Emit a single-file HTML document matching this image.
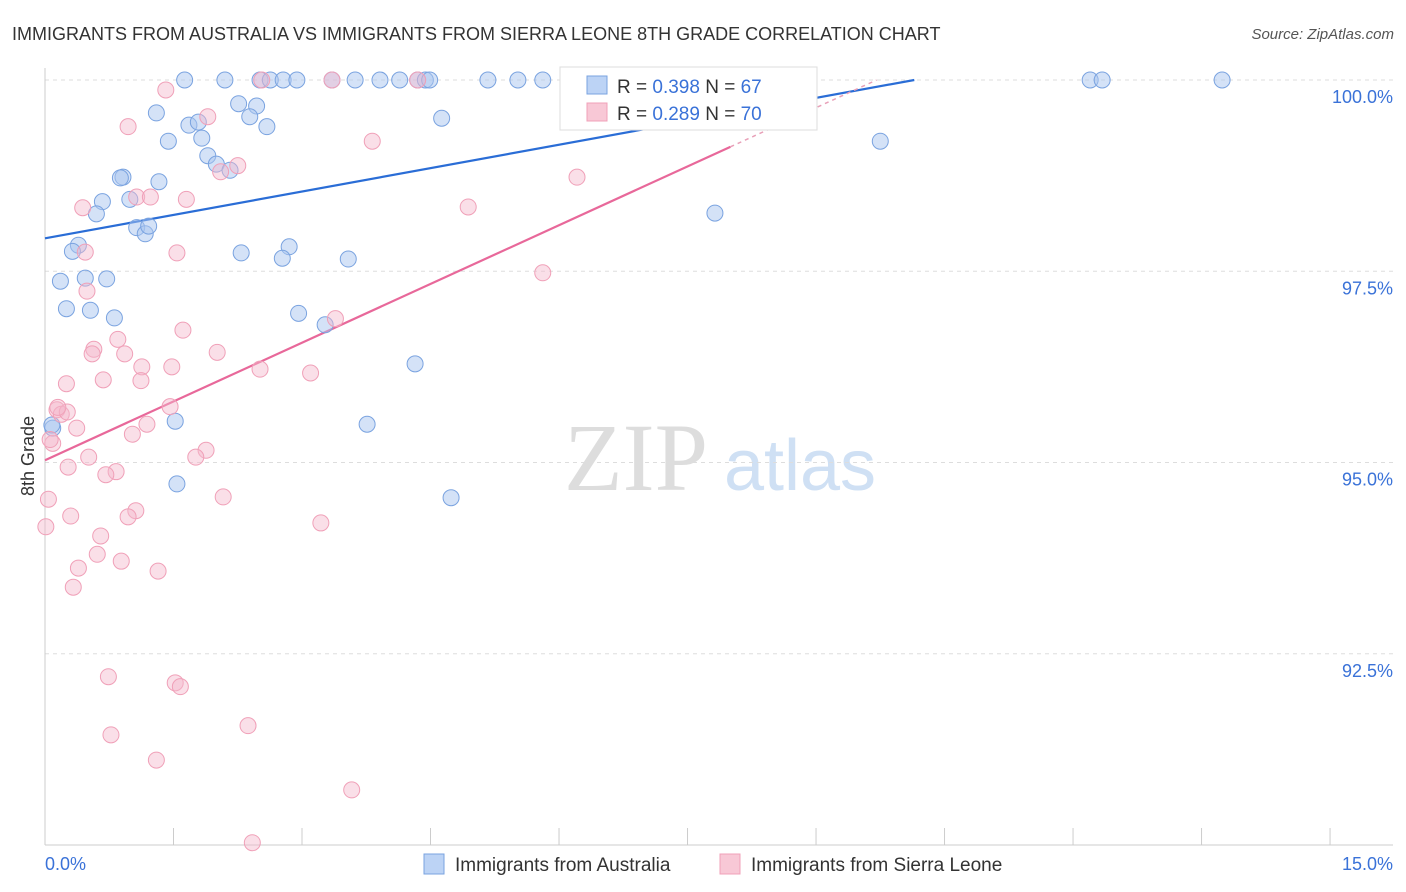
<!DOCTYPE html>
<html><head><meta charset="utf-8"><style>
body{margin:0;background:#fff;font-family:"Liberation Sans",sans-serif;}
svg{display:block}
</style></head><body>
<svg id="chart" width="1406" height="892">
<text x="12" y="40" font-size="18" fill="#333">IMMIGRANTS FROM AUSTRALIA VS IMMIGRANTS FROM SIERRA LEONE 8TH GRADE CORRELATION CHART</text>
<text x="1394" y="39" font-size="15" fill="#555" text-anchor="end" font-style="italic">Source: ZipAtlas.com</text>
<text x="34" y="456" font-size="18" fill="#333" text-anchor="middle" transform="rotate(-90 34 456)">8th Grade</text>
<g><text x="636" y="490" font-size="96" fill="#ddd" text-anchor="middle" font-family="Liberation Serif,serif">ZIP</text><text x="800" y="490" font-size="72" fill="#cfe0f4" text-anchor="middle">atlas</text></g>
<g id="grid"></g><g id="axes"></g><g id="trend"></g><g id="pts"></g>
<g>
<rect x="560" y="67" width="257" height="63" fill="#fff" stroke="#ddd"/>
<rect x="587" y="76" width="20" height="18" fill="#bcd3f5" stroke="#7aa3e0"/>
<text x="617" y="93" font-size="19" fill="#333">R = <tspan fill="#3a72d8">0.398</tspan>   N = <tspan fill="#3a72d8">67</tspan></text>
<rect x="587" y="103" width="20" height="18" fill="#f8c8d6" stroke="#f0a0b8"/>
<text x="617" y="120" font-size="19" fill="#333">R = <tspan fill="#3a72d8">0.289</tspan>   N = <tspan fill="#3a72d8">70</tspan></text>
</g>
<g>
<rect x="424" y="854" width="20" height="20" fill="#bcd3f5" stroke="#7aa3e0"/>
<text x="455" y="871" font-size="19" fill="#333">Immigrants from Australia</text>
<rect x="720" y="854" width="20" height="20" fill="#f8c8d6" stroke="#f0a0b8"/>
<text x="751" y="871" font-size="19" fill="#333">Immigrants from Sierra Leone</text>
</g>
</svg>
<script>
const xTicks=[0,1.5,3,4.5,6,7.5,9,10.5,12,13.5,15];
const yTicks=[92.5,95,97.5,100];
const yTickLabels=["92.5%","95.0%","97.5%","100.0%"];
const xEndLabels=["0.0%","15.0%"];
const blueX=[1.63,2.10,2.51,2.63,2.78,2.94,3.35,3.62,3.91,4.14,4.35,4.44,4.49,5.17,5.52,5.81,6.24,12.20,12.34,13.74,1.30,2.26,2.47,2.39,2.59,1.68,1.79,1.44,1.83,1.90,2.00,2.16,4.63,0.91,0.88,1.33,0.67,0.99,0.60,1.07,1.17,1.21,0.39,0.32,2.29,2.85,2.77,3.54,0.18,0.47,0.72,0.25,0.53,0.81,2.96,3.27,4.32,1.52,3.76,0.09,1.54,4.74,9.75,7.82,0.08];
const blueY=[100,100,100,100,100,100,100,100,100,100,100,100,100,100,100,100,100,100,100,100,99.57,99.69,99.66,99.52,99.39,99.41,99.45,99.20,99.24,99.01,98.90,98.82,99.50,98.73,98.72,98.67,98.41,98.44,98.25,98.07,97.99,98.09,97.84,97.76,97.74,97.82,97.67,97.66,97.37,97.41,97.40,97.01,96.99,96.89,96.95,96.80,96.29,95.54,95.50,95.45,94.72,94.54,99.20,98.26,95.49];
const pinkX=[1.41,1.90,0.97,0.44,1.07,1.65,2.25,2.05,0.47,1.54,0.49,3.82,6.21,4.94,5.81,1.61,3.39,0.85,0.57,0.55,0.93,2.01,1.13,1.48,2.51,3.10,0.25,0.68,1.12,0.14,0.19,1.46,1.19,0.37,1.02,0.09,1.88,1.76,0.51,0.27,0.83,0.71,0.04,2.08,1.06,0.97,0.30,3.22,0.01,0.65,0.61,0.89,0.39,1.32,0.33,0.74,1.52,1.58,0.77,2.37,1.30,3.58,2.42,2.53,3.35,4.35,1.23,0.26,0.15,0.06];
const pinkY=[99.87,99.52,99.39,98.33,98.47,98.44,98.88,98.80,97.75,97.74,97.24,99.20,98.73,98.34,97.48,96.73,96.88,96.61,96.48,96.42,96.42,96.44,96.25,96.25,96.22,96.17,96.03,96.08,96.07,95.69,95.63,95.73,95.50,95.45,95.37,95.25,95.16,95.07,95.07,94.94,94.88,94.84,94.52,94.55,94.37,94.29,94.30,94.21,94.16,94.04,93.80,93.71,93.62,93.58,93.37,92.20,92.12,92.07,91.44,91.56,91.11,90.72,90.03,100,100,100,98.47,95.66,95.72,95.30];
const blueTrend=[97.93,0.204];
const pinkTrend=[95.03,0.512];
const pinkSolidEnd=8.0;
const sx=v=>45+v*85.67, sy=v=>80+(100-v)*76.5;
const NS="http://www.w3.org/2000/svg";
function mk(tag,attrs,parent){const e=document.createElementNS(NS,tag);for(const k in attrs)e.setAttribute(k,attrs[k]);parent.appendChild(e);return e;}
const grid=document.getElementById('grid'),axes=document.getElementById('axes'),trend=document.getElementById('trend'),pts=document.getElementById('pts');
yTicks.forEach((t,i)=>{
 const l=mk('line',{x1:45,x2:1393,y1:sy(t),y2:sy(t),stroke:'#ddd','stroke-dasharray':'4,4'},grid);
 
 
 const tx=mk('text',{x:1393,y:sy(t)+23,'font-size':18,fill:'#3a72d8','text-anchor':'end'},axes);
 tx.textContent=yTickLabels[i];
 
 
});
const ax=mk('line',{x1:45,x2:1393,y1:845,y2:845,stroke:'#ccc'},axes);


const ay=mk('line',{x1:45,x2:45,y1:68,y2:845,stroke:'#ccc'},axes);


xTicks.forEach(t=>{
 const l=mk('line',{x1:sx(t),x2:sx(t),y1:828,y2:845,stroke:'#ccc'},axes);
 
 
});
const xl0=mk('text',{x:45,y:870,'font-size':18,fill:'#3a72d8'},axes);xl0.textContent=xEndLabels[0];


const xl1=mk('text',{x:1393,y:870,'font-size':18,fill:'#3a72d8','text-anchor':'end'},axes);xl1.textContent=xEndLabels[1];


function drawPts(X,Y,fill,stroke,name){X.forEach((x,i)=>{
 const c=mk('circle',{cx:sx(x),cy:sy(Y[i]),r:8,fill:fill,stroke:stroke,'stroke-width':1},pts);
 
 
});}
drawPts(blueX,blueY,'rgba(170,198,240,0.5)','#7aa3e0','australia-point');
drawPts(pinkX,pinkY,'rgba(245,185,205,0.45)','#f0a0b8','sierra-leone-point');
const bx2=Math.min(15,(100-blueTrend[0])/blueTrend[1]);
const bl=mk('line',{x1:sx(0),y1:sy(blueTrend[0]),x2:sx(bx2),y2:sy(blueTrend[0]+blueTrend[1]*bx2),stroke:'#2a6dd6','stroke-width':2.2},trend);


const pl=mk('line',{x1:sx(0),y1:sy(pinkTrend[0]),x2:sx(pinkSolidEnd),y2:sy(pinkTrend[0]+pinkTrend[1]*pinkSolidEnd),stroke:'#e8689a','stroke-width':2.2},trend);


const px2=Math.min(15,(100-pinkTrend[0])/pinkTrend[1]);
const pd=mk('line',{x1:sx(pinkSolidEnd),y1:sy(pinkTrend[0]+pinkTrend[1]*pinkSolidEnd),x2:sx(px2),y2:sy(pinkTrend[0]+pinkTrend[1]*px2),stroke:'#e8a0b8','stroke-width':1.5,'stroke-dasharray':'4,4'},trend);


</script>
</body></html>
